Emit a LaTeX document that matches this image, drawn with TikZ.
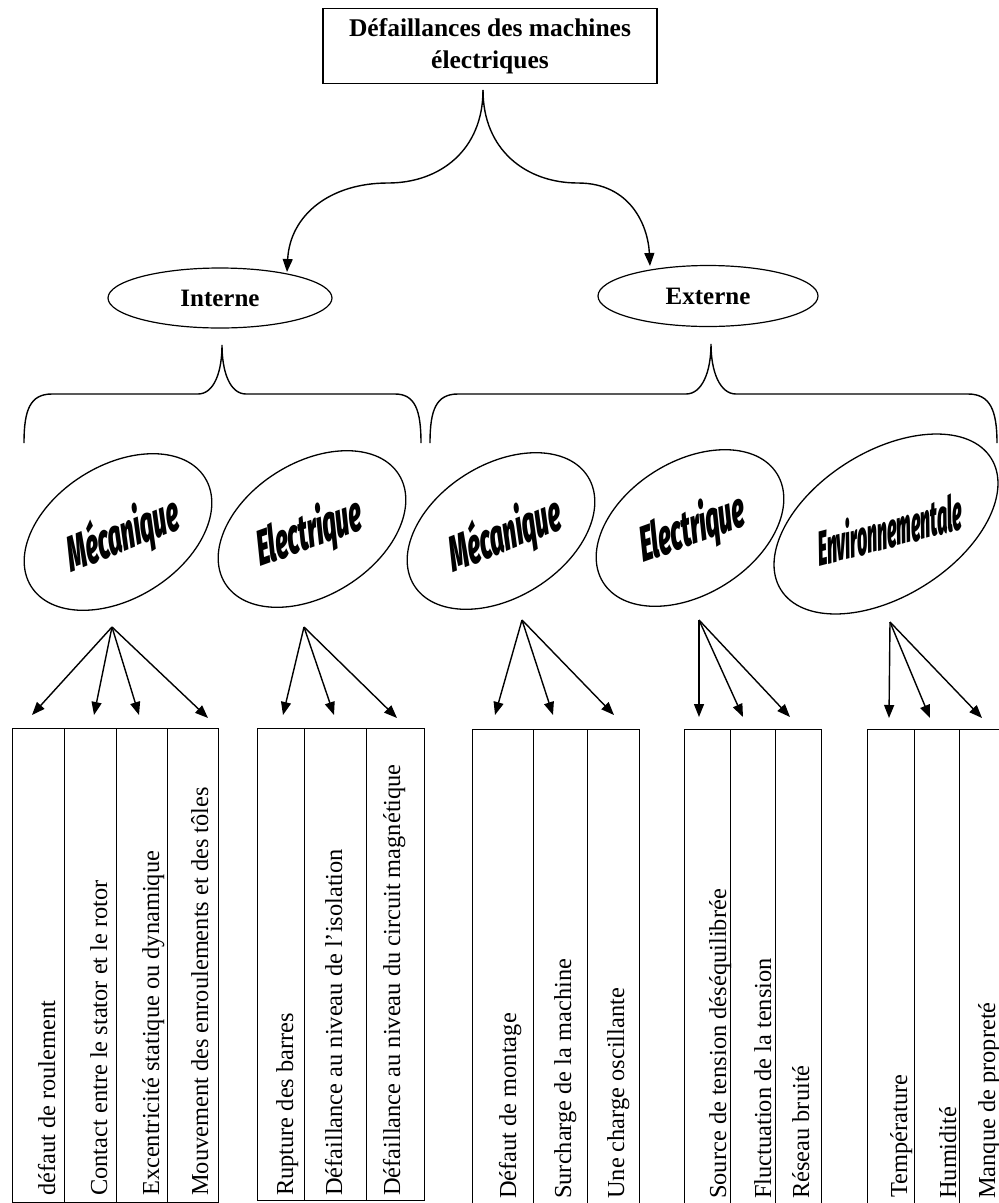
\documentclass[tikz,border=0pt]{standalone}
\usepackage{fontspec}
\setmainfont{Liberation Serif}
\newfontfamily\heavy{Fira Sans Black Italic}[FakeSlant=0.18,FakeStretch=0.5]
\newfontfamily\heavyn{Fira Sans Black Italic}[FakeSlant=0.2,FakeStretch=0.38]
\usetikzlibrary{shapes.geometric,arrows.meta}
\tikzset{
  ln/.style={line width=1.4pt},
  arr/.style={line width=1.4pt,-{Triangle[length=13pt,width=10pt]}},
  topbox/.style={draw,line width=1.2pt,minimum width=334pt,minimum height=75pt,align=center,inner sep=0pt,
    font=\bfseries\fontsize{25.5}{32}\selectfont},
  flat/.style={draw,ellipse,line width=1.2pt,inner sep=0pt,font=\bfseries\fontsize{25}{30}\selectfont},
  tilt/.style={draw,ellipse,line width=1.3pt,inner sep=0pt,rotate=32},
  cat/.style={inner sep=0pt,font=\heavy\fontsize{49}{49}\selectfont},
  catn/.style={inner sep=0pt,font=\heavyn\fontsize{48}{48}\selectfont},
  cell/.style={draw,line width=1.2pt,anchor=north west,inner sep=0pt},
  ctext/.style={rotate=90,anchor=base west,inner sep=0pt,font=\fontsize{24.4}{28}\selectfont}
}
\begin{document}
\begin{tikzpicture}[x=1pt,y=-1pt]
\useasboundingbox (0,0) rectangle (999,1203);
\clip (0,0) rectangle (999,1203);
% top
\node[topbox] (top) at (490,46) {Défaillances des machines\\électriques};
\node[flat,minimum width=224pt,minimum height=60pt] (int) at (220,298) {Interne};
\node[flat,minimum width=220pt,minimum height=61pt] (ext) at (708,296) {Externe};
\coordinate (tc) at (483,90);
\coordinate (ti) at (287,272);
\coordinate (te) at (650,266);
\draw[arr] (tc) .. controls (483,150) and (440,183) .. (388,183) .. controls (330,183) and (290,215) .. (ti);
\draw[arr] (tc) .. controls (483,150) and (526,183) .. (578,183) .. controls (630,183) and (648,225) .. (te);
% braces
\coordinate (bl) at (222,345);
\coordinate (br) at (711,344);
\draw[ln] (24,443) .. controls (24,410) and (30,394) .. (52,394) -- (198,394) .. controls (214,394) and (222,372) .. (bl)
  .. controls (222,372) and (230,394) .. (246,394) -- (395,394) .. controls (415,394) and (421,410) .. (421,443);
\draw[ln] (430,443) .. controls (430,410) and (436,394) .. (458,394) -- (686,394) .. controls (702,394) and (711,372) .. (br)
  .. controls (711,372) and (720,394) .. (736,394) -- (968,394) .. controls (990,394) and (997,410) .. (997,443);
% tilted ellipses
\node[tilt,minimum width=205pt,minimum height=133pt] (m1) at (118,532) {};
\node[tilt,minimum width=205pt,minimum height=133pt] (e1) at (312,529) {};
\node[tilt,minimum width=205pt,minimum height=133pt] (m2) at (501,531) {};
\node[tilt,minimum width=205pt,minimum height=133pt] (e2) at (690,528) {};
\node[tilt,minimum width=248pt,minimum height=145pt] (en) at (886,524) {};
\node[cat,rotate=22] (m1t) at (121,536) {Mécanique};
\node[cat,rotate=20] (e1t) at (307,534) {Electrique};
\node[cat,rotate=22] (m2t) at (503,536) {Mécanique};
\node[cat,rotate=20] (e2t) at (690,530) {Electrique};
\node[catn,rotate=15] (ent) at (886,529) {Environnementale};
% arrows
\coordinate (om1) at (112,627);
\coordinate (oe1) at (304,627);
\coordinate (om2) at (522,620);
\coordinate (oe2) at (699,620);
\coordinate (oen) at (890,622);
\draw[arr] (om1) -- (32,715);
\draw[arr] (om1) -- (94,715);
\draw[arr] (om1) -- (139,715);
\draw[arr] (om1) -- (208,718);
\draw[arr] (oe1) -- (283,715);
\draw[arr] (oe1) -- (334,715);
\draw[arr] (oe1) -- (397,718);
\draw[arr] (om2) -- (495,715);
\draw[arr] (om2) -- (553,715);
\draw[arr] (om2) -- (614,715);
\draw[arr] (oe2) -- (699,717);
\draw[arr] (oe2) -- (743,717);
\draw[arr] (oe2) -- (790,717);
\draw[arr] (oen) -- (889,718);
\draw[arr] (oen) -- (930,718);
\draw[arr] (oen) -- (982,718);
% cells box 1
\node[cell,minimum width=52pt,minimum height=474pt] (c11) at (12,728) {};
\node[cell,minimum width=52pt,minimum height=474pt] (c12) at (64,728) {};
\node[cell,minimum width=51pt,minimum height=474pt] (c13) at (116,728) {};
\node[cell,minimum width=51pt,minimum height=474pt] (c14) at (167,728) {};
% box 2
\node[cell,minimum width=47pt,minimum height=472pt] (c21) at (257,728) {};
\node[cell,minimum width=62pt,minimum height=472pt] (c22) at (304,728) {};
\node[cell,minimum width=58pt,minimum height=472pt] (c23) at (366,728) {};
% box 3
\node[cell,minimum width=61pt,minimum height=500pt] (c31) at (472,729) {};
\node[cell,minimum width=54pt,minimum height=500pt] (c32) at (533,729) {};
\node[cell,minimum width=52pt,minimum height=500pt] (c33) at (587,729) {};
% box 4
\node[cell,minimum width=46pt,minimum height=500pt] (c41) at (684,729) {};
\node[cell,minimum width=45pt,minimum height=500pt] (c42) at (730,729) {};
\node[cell,minimum width=46pt,minimum height=500pt] (c43) at (775,729) {};
% box 5
\node[cell,minimum width=47pt,minimum height=500pt] (c51) at (867,729) {};
\node[cell,minimum width=45pt,minimum height=500pt] (c52) at (914,729) {};
\node[cell,minimum width=60pt,minimum height=500pt] (c53) at (959,729) {};
% texts
\node[ctext] (t11) at (55,1196) {défaut de roulement};
\node[ctext] (t12) at (107,1196) {Contact entre le stator et le rotor};
\node[ctext] (t13) at (159,1196) {Excentricité statique ou dynamique};
\node[ctext] (t14) at (208,1196) {Mouvement des enroulements et des tôles};
\node[ctext] (t21) at (293,1196) {Rupture des barres};
\node[ctext] (t22) at (342,1196) {Défaillance au niveau de l’isolation};
\node[ctext] (t23) at (400,1196) {Défaillance au niveau du circuit magnétique};
\node[ctext] (t31) at (516,1199) {Défaut de montage};
\node[ctext] (t32) at (571,1199) {Surcharge de la machine};
\node[ctext] (t33) at (624,1199) {Une charge oscillante};
\node[ctext] (t41) at (726,1199) {Source de tension déséquilibrée};
\node[ctext] (t42) at (771,1199) {Fluctuation de la tension};
\node[ctext] (t43) at (809,1199) {Réseau bruité};
\node[ctext] (t51) at (907,1198) {Température};
\node[ctext] (t52) at (956,1199) {Humidité};
\node[ctext] (t53) at (995,1199) {Manque de propreté};
\end{tikzpicture}
\end{document}
